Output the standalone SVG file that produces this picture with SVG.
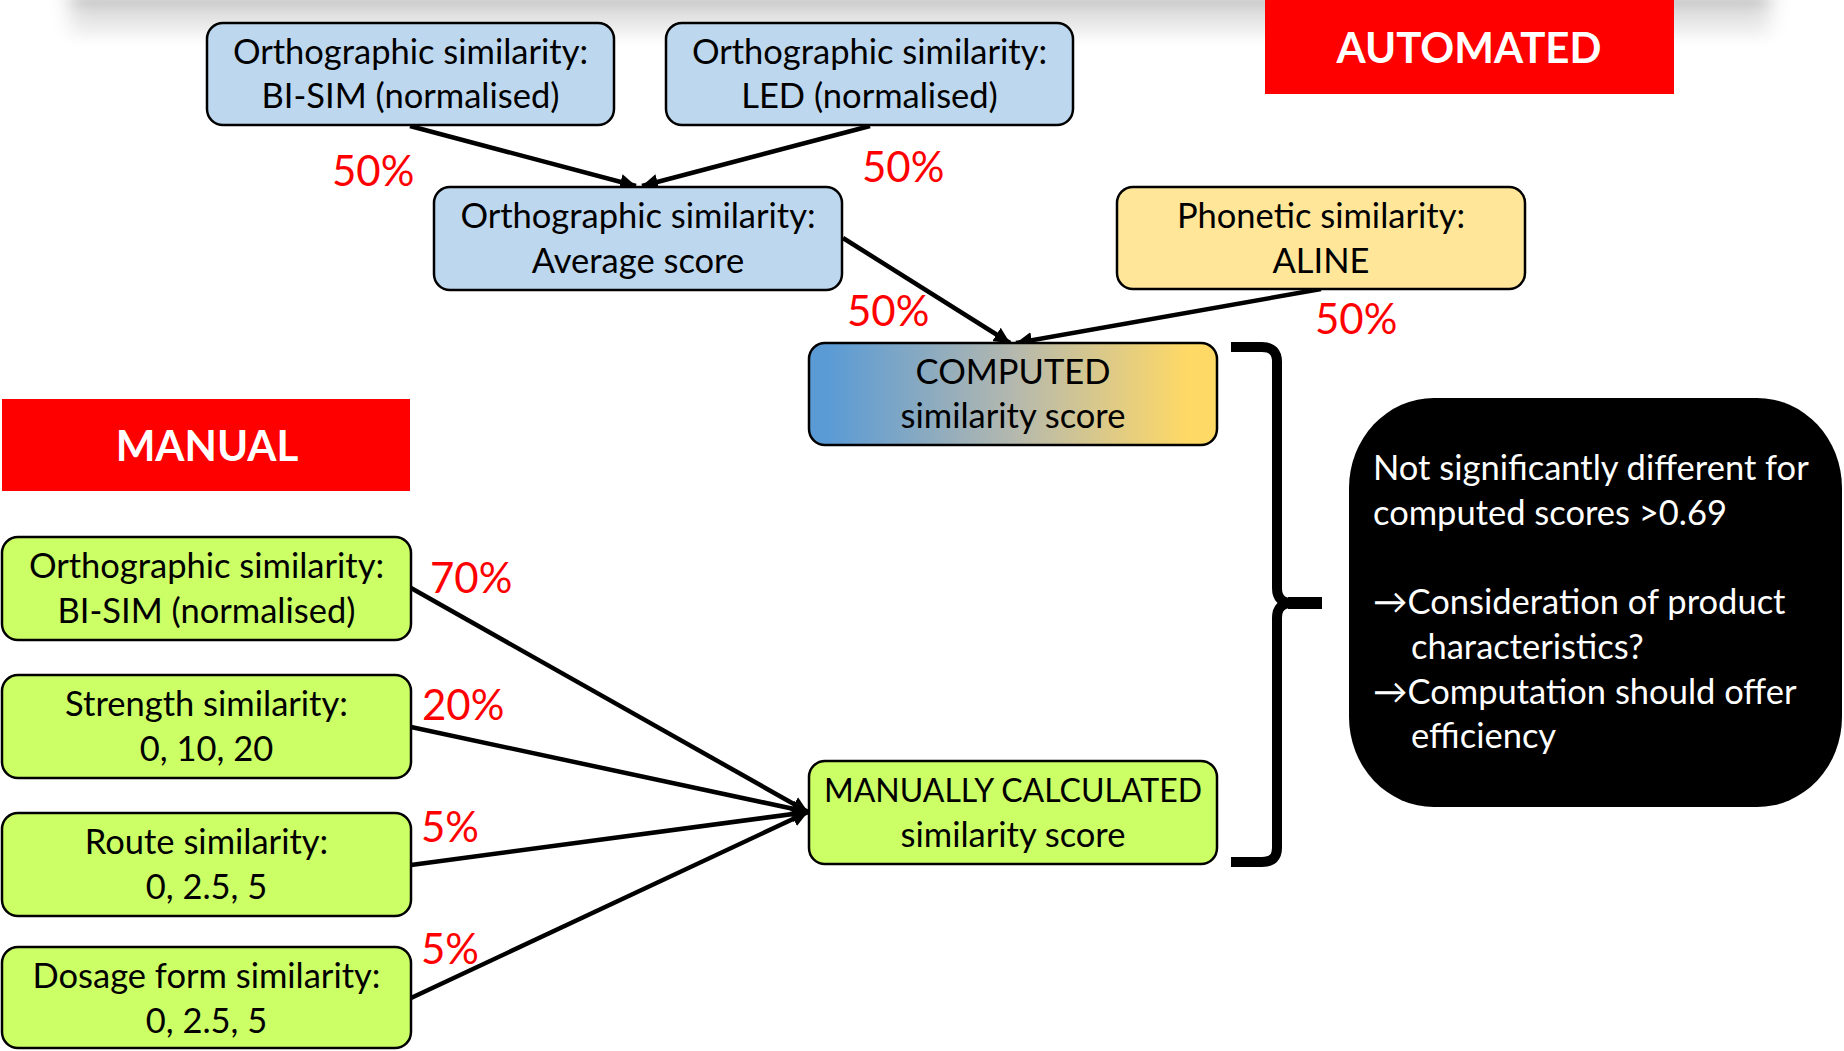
<svg xmlns="http://www.w3.org/2000/svg" width="1844" height="1051" viewBox="0 0 1844 1051">
<defs>
<style>
.t{font-family:Lato,"Open Sans","Liberation Sans",sans-serif;font-size:34.5px;fill:#000;text-anchor:middle}
.w{font-family:Lato,"Open Sans","Liberation Sans",sans-serif;font-size:34.5px;fill:#fff}
.p{font-family:Lato,"Open Sans","Liberation Sans",sans-serif;font-size:42px;fill:#ff0000}
.h{font-family:Lato,"Open Sans","Liberation Sans",sans-serif;font-size:42px;font-weight:bold;fill:#fff;text-anchor:middle}
.box{stroke:#000;stroke-width:2.5}
.blue{fill:#BDD7EE}
.yel{fill:#FFE699}
.grn{fill:#CCFF66}
.c{stroke:#000;stroke-width:4.5;fill:none;marker-end:url(#ah)}
</style>
<marker id="ah" markerUnits="userSpaceOnUse" markerWidth="18" markerHeight="16" refX="16" refY="8" orient="auto">
<path d="M0,0 L16,8 L0,16 z" fill="#000"/>
</marker>
<linearGradient id="gc" x1="0" y1="0" x2="1" y2="0">
<stop offset="0.05" stop-color="#5B9BD5"/>
<stop offset="0.5" stop-color="#B4B8AE"/>
<stop offset="0.93" stop-color="#FFD966"/>
</linearGradient>
<linearGradient id="sh" x1="0" y1="0" x2="0" y2="1">
<stop offset="0" stop-color="#bdbdbd"/>
<stop offset="0.3" stop-color="#dcdcdc"/>
<stop offset="0.7" stop-color="#efefef"/>
<stop offset="1" stop-color="#ffffff"/>
</linearGradient>
<filter id="blur" x="-10%" y="-100%" width="120%" height="300%">
<feGaussianBlur stdDeviation="10 4"/>
</filter>
</defs>
<rect x="0" y="0" width="1844" height="1051" fill="#fff"/>
<rect x="70" y="-4" width="1700" height="48" fill="url(#sh)" filter="url(#blur)"/>

<g id="automated">
<rect x="1265" y="0" width="409" height="94" fill="#ff0000"/>
<text class="h" x="1469" y="63">AUTOMATED</text>
</g>
<g id="manual">
<rect x="2" y="399" width="408" height="92" fill="#ff0000"/>
<text class="h" x="207" y="461">MANUAL</text>
</g>

<g id="connectors">
<line class="c" x1="410" y1="126" x2="636" y2="186"/>
<line class="c" x1="870" y1="126" x2="642" y2="186"/>
<line class="c" x1="843" y1="238" x2="1010" y2="343"/>
<line class="c" x1="1321" y1="289" x2="1016" y2="343"/>
<line class="c" x1="411" y1="588" x2="808" y2="812"/>
<line class="c" x1="411" y1="727" x2="808" y2="812"/>
<line class="c" x1="411" y1="865" x2="808" y2="812"/>
<line class="c" x1="411" y1="998" x2="808" y2="812"/>
</g>

<g id="labels">
<text class="p" x="332" y="186">50%</text>
<text class="p" x="862" y="182">50%</text>
<text class="p" x="847" y="326">50%</text>
<text class="p" x="1315" y="334">50%</text>
<text class="p" x="430" y="593">70%</text>
<text class="p" x="422" y="720">20%</text>
<text class="p" x="421" y="842">5%</text>
<text class="p" x="421" y="964">5%</text>
</g>

<g id="bisim">
<rect class="box blue" x="207" y="23" width="407" height="102" rx="16"/>
<text class="t" x="410.5" y="64">Orthographic similarity:</text>
<text class="t" x="410.5" y="108">BI-SIM (normalised)</text>
</g>
<g id="led">
<rect class="box blue" x="666" y="23" width="407" height="102" rx="16"/>
<text class="t" x="869.5" y="64">Orthographic similarity:</text>
<text class="t" x="869.5" y="108">LED (normalised)</text>
</g>
<g id="average">
<rect class="box blue" x="434" y="187" width="408" height="103" rx="16"/>
<text class="t" x="638" y="228">Orthographic similarity:</text>
<text class="t" x="638" y="273">Average score</text>
</g>
<g id="phonetic">
<rect class="box yel" x="1117" y="187" width="408" height="102" rx="16"/>
<text class="t" x="1321" y="228">Phonetic similarity:</text>
<text class="t" x="1321" y="273">ALINE</text>
</g>
<g id="computed">
<rect class="box" fill="url(#gc)" x="809" y="343" width="408" height="102" rx="16"/>
<text class="t" x="1013" y="384">COMPUTED</text>
<text class="t" x="1013" y="428">similarity score</text>
</g>
<g id="manually">
<rect class="box grn" x="809" y="761" width="408" height="103" rx="16"/>
<text class="t" x="1013" y="802" style="font-size:32px">MANUALLY CALCULATED</text>
<text class="t" x="1013" y="847">similarity score</text>
</g>

<g id="m-ortho">
<rect class="box grn" x="2" y="537" width="409" height="103" rx="16"/>
<text class="t" x="206.5" y="578">Orthographic similarity:</text>
<text class="t" x="206.5" y="623">BI-SIM (normalised)</text>
</g>
<g id="m-strength">
<rect class="box grn" x="2" y="675" width="409" height="103" rx="16"/>
<text class="t" x="206.5" y="716">Strength similarity:</text>
<text class="t" x="206.5" y="761">0, 10, 20</text>
</g>
<g id="m-route">
<rect class="box grn" x="2" y="813" width="409" height="103" rx="16"/>
<text class="t" x="206.5" y="854">Route similarity:</text>
<text class="t" x="206.5" y="899">0, 2.5, 5</text>
</g>
<g id="m-dosage">
<rect class="box grn" x="2" y="947" width="409" height="101" rx="16"/>
<text class="t" x="206.5" y="988">Dosage form similarity:</text>
<text class="t" x="206.5" y="1033">0, 2.5, 5</text>
</g>

<g id="brace">
<path d="M1231 347 H1262 Q1277 347 1277 362 V588 Q1277 603 1292 603 Q1277 603 1277 618 V848 Q1277 862 1262 862 H1231" fill="none" stroke="#000" stroke-width="10" stroke-linejoin="round"/>
<rect x="1288" y="597" width="34" height="12" fill="#000"/>
</g>

<g id="note">
<rect x="1349" y="398" width="493" height="409" rx="85" ry="90" fill="#000"/>
<text class="w">
<tspan x="1373" y="480">Not significantly different for</tspan>
<tspan x="1373" y="525">computed scores &gt;0.69</tspan>
<tspan x="1373" y="614">→Consideration of product</tspan>
<tspan x="1411" y="659">characteristics?</tspan>
<tspan x="1373" y="704">→Computation should offer</tspan>
<tspan x="1411" y="748">efficiency</tspan>
</text>
</g>
</svg>
